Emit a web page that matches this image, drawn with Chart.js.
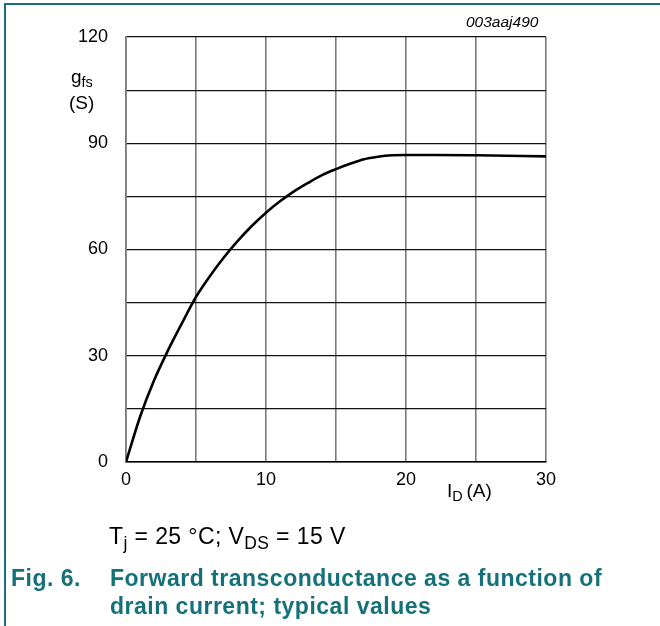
<!DOCTYPE html>
<html>
<head>
<meta charset="utf-8">
<script src="https://cdn.jsdelivr.net/npm/chart.js@4/dist/chart.umd.min.js"></script>
<style>
  html, body { margin: 0; padding: 0; background: #fff; }
  #wrap { position: relative; width: 660px; height: 626px; overflow: hidden;
          font-family: "Liberation Sans", Arial, sans-serif; }
  #chart { position: absolute; left: 0; top: 0; }
  .frame-top { position: absolute; left: 5px; top: 3px; width: 655px; height: 2px; background: #19717a; }
  .frame-left { position: absolute; left: 4px; top: 3px; width: 2px; height: 623px; background: #19717a; }
  .t { position: absolute; color: #000; white-space: nowrap; line-height: 1; }
  .cap { position: absolute; color: #14717a; font-weight: bold; font-size: 23px; letter-spacing: 0.5px;
         white-space: nowrap; line-height: 1; }
  sub { font-size: 0.76em; vertical-align: -0.3em; line-height: 0; }
</style>
</head>
<body>
<div id="wrap">
  <canvas id="chart" width="660" height="626"></canvas>
  <div class="frame-top"></div>
  <div class="frame-left"></div>
  <div class="t" style="left:466px; top:14px; font-size:15.5px; font-style:italic;">003aaj490</div>
  <div class="t" style="left:71px; top:67px; font-size:19px;">g<sub>fs</sub></div>
  <div class="t" style="left:69px; top:93px; font-size:19px;">(S)</div>
  <div class="t" style="left:447px; top:481px; font-size:19px;">I<sub>D</sub>&thinsp;(A)</div>
  <div class="t" style="left:109px; top:525px; font-size:23px; letter-spacing:0.4px;">T<sub>j</sub> = 25 °C; V<sub>DS</sub> = 15 V</div>
  <div class="cap" style="left:11px; top:567px;">Fig. 6.</div>
  <div class="cap" style="left:110px; top:567px;">Forward transconductance as a function of</div>
  <div class="cap" style="left:110px; top:595px;">drain current; typical values</div>
</div>
<script>
// Drain current I_D (A) and forward transconductance g_fs (S), typical values
const drainCurrent = [0, 1, 2, 3, 4, 5, 6, 7, 8, 9, 10, 11, 12, 13, 14, 15, 16, 17, 18, 19, 20, 22, 25, 30];
const transconductance = [0, 12.7, 23, 31.5, 39.2, 46.6, 52.5, 57.8, 62.5, 66.7, 70.4, 73.6, 76.4, 78.8, 81, 82.7, 84.2, 85.5, 86.2, 86.6, 86.7, 86.7, 86.6, 86.3];

// Axis ranges and labelled ticks
const xTicks = [0, 10, 20, 30];
const yTicks = [0, 30, 60, 90, 120];

const points = drainCurrent.map((x, i) => ({ x: x, y: transconductance[i] }));

const font = { family: '"Liberation Sans", Arial, sans-serif', size: 18 };

new Chart(document.getElementById('chart'), {
  type: 'line',
  data: {
    datasets: [{
      data: points,
      borderColor: '#000',
      borderWidth: 2.6,
      pointRadius: 0,
      cubicInterpolationMode: 'monotone',
      fill: false
    }]
  },
  options: {
    responsive: false,
    animation: false,
    events: [],
    layout: { padding: { left: 0, top: 37, right: 114, bottom: 134 } },
    plugins: { legend: { display: false }, tooltip: { enabled: false } },
    scales: {
      x: {
        type: 'linear',
        min: 0, max: 30,
        afterFit: s => { s.height = 30; },
        ticks: {
          stepSize: 5,
          padding: 7,
          color: '#000',
          font: font,
          maxRotation: 0,
          autoSkip: false,
          callback: v => xTicks.includes(v) ? String(v) : ''
        },
        grid: { color: '#7a7a7a', lineWidth: 1.6, drawTicks: false },
        border: { color: '#000', width: 1.6 }
      },
      y: {
        min: 0, max: 120,
        afterFit: s => { s.width = 126; },
        ticks: {
          stepSize: 15,
          padding: 18,
          color: '#000',
          font: font,
          autoSkip: false,
          callback: v => yTicks.includes(v) ? String(v) : ''
        },
        grid: { color: '#111', lineWidth: 1.2, drawTicks: false },
        border: { color: '#7a7a7a', width: 1.6 }
      }
    }
  }
});
</script>
</body>
</html>
